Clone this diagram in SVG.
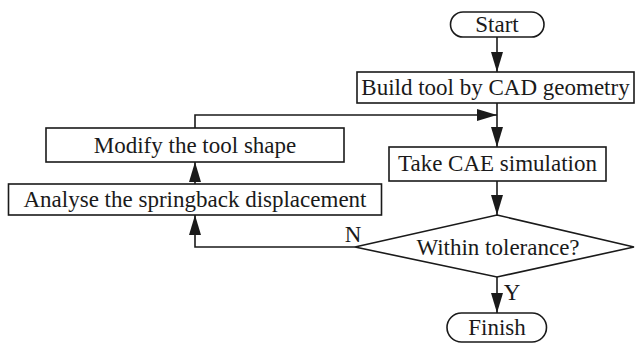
<svg xmlns="http://www.w3.org/2000/svg" width="635" height="345" viewBox="0 0 635 345">
  <style>
    .box { fill: #ffffff; stroke: #1a1a1a; stroke-width: 1.6; }
    .lbl { font-family: "Liberation Serif", "Times New Roman", serif; font-size: 23px; fill: #1a1a1a; text-anchor: middle; }
    .edge { fill: none; stroke: #1a1a1a; stroke-width: 1.6; marker-end: url(#arrow); }
  </style>
  <defs>
    <marker id="arrow" markerUnits="userSpaceOnUse" markerWidth="20" markerHeight="12" refX="20" refY="6" orient="auto">
      <path d="M0,0 L20,6 L0,12 Z" fill="#1a1a1a"/>
    </marker>
  </defs>
  <rect width="635" height="345" fill="#ffffff"/>

  <!-- connectors -->
  <g id="connectors">
    <path class="edge" d="M497,37 V72"/>
    <path class="edge" d="M497,103 V147"/>
    <path class="edge" d="M195,128 V115 H497"/>
    <path class="edge" d="M195,184 V162"/>
    <path class="edge" d="M497,181 V215"/>
    <path class="edge" d="M355,247 H195 V215"/>
    <path class="edge" d="M497,277 V313"/>
    <text class="lbl" x="353" y="242">N</text>
    <text class="lbl" x="512" y="300">Y</text>
  </g>

  <!-- nodes -->
  <g id="start">
    <rect class="box" x="450.5" y="12" width="93.5" height="25" rx="12.5"/>
    <text class="lbl" x="497" y="32">Start</text>
  </g>
  <g id="build">
    <rect class="box" x="357" y="72" width="277" height="31"/>
    <text class="lbl" x="495.5" y="95">Build tool by CAD geometry</text>
  </g>
  <g id="modify">
    <rect class="box" x="46" y="128" width="298" height="34"/>
    <text class="lbl" x="195" y="152.5">Modify the tool shape</text>
  </g>
  <g id="take-cae">
    <rect class="box" x="389" y="147" width="217" height="34"/>
    <text class="lbl" x="497.5" y="171">Take CAE simulation</text>
  </g>
  <g id="analyse">
    <rect class="box" x="8.5" y="184" width="373" height="31"/>
    <text class="lbl" x="195" y="207">Analyse the springback displacement</text>
  </g>
  <g id="tolerance">
    <polygon class="box" points="497,215 634,247 497,277 355,247"/>
    <text class="lbl" x="498" y="255">Within tolerance?</text>
  </g>
  <g id="finish">
    <rect class="box" x="447" y="313" width="99.5" height="29" rx="14.5"/>
    <text class="lbl" x="497" y="335">Finish</text>
  </g>
</svg>
